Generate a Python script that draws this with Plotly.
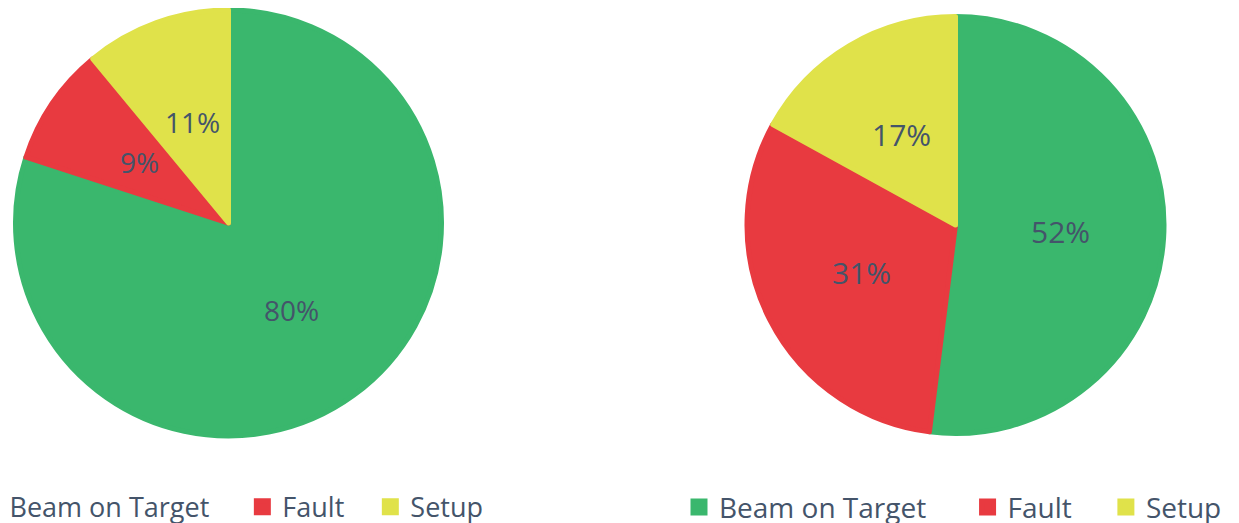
import math
import plotly.graph_objects as go

# ---- data ----
categories = ["Beam on Target", "Fault", "Setup"]
left_values = [80, 9, 11]
right_values = [52, 31, 17]
colors = ["#3AB76D", "#E83A40", "#E0E24A"]

# ---- layout geometry (figure pixels; the page adds an 8px body margin) ----
W, H = 1260, 515
MB = 40                      # bottom margin that holds the legends
PW, PH = W, H - MB           # plot-area size
TEXT_COLOR = "#44546A"
FONT = "Open Sans"
LINE_W = 5
left_geom = dict(cx=220.5, cy=215, r=213)
right_geom = dict(cx=947.5, cy=217, r=208.5)


def px_to_paper(px, py):
    return px / PW, 1 - py / PH


def domain(g):
    x0, y1 = px_to_paper(g["cx"] - g["r"], g["cy"] - g["r"])
    x1, y0 = px_to_paper(g["cx"] + g["r"], g["cy"] + g["r"])
    return dict(x=[x0, x1], y=[y0, y1])


def labels_for(values, g, r_extra, size):
    total = sum(values)
    out = []
    cum = 0
    R = g["r"] + r_extra
    for v in values:
        mid = (cum + v / 2) / total * 2 * math.pi
        cum += v
        x, y = px_to_paper(g["cx"] + 0.5 * R * math.sin(mid),
                           g["cy"] - 0.5 * R * math.cos(mid))
        out.append(dict(
            x=x, y=y, xref="paper", yref="paper",
            text=f"{round(v / total * 100)}%", showarrow=False,
            font=dict(family=FONT, size=size, color=TEXT_COLOR),
            xanchor="center", yanchor="middle",
        ))
    return out


def padded(names, pads):
    # trailing non-breaking spaces widen the gap between legend entries
    # (and keep each pie's legend entries distinct)
    return [n + "\u00a0" * p for n, p in zip(names, pads)]


fig = go.Figure()
fig.add_trace(go.Pie(
    labels=padded(categories, [4, 3, 0]), values=left_values, sort=False,
    direction="clockwise", rotation=0, domain=domain(left_geom), textinfo="none",
    marker=dict(colors=colors, line=dict(color=colors, width=LINE_W)),
    legend="legend", hoverinfo="label+percent",
))
fig.add_trace(go.Pie(
    labels=padded(categories, [5, 4, 1]), values=right_values, sort=False,
    direction="clockwise", rotation=0, domain=domain(right_geom), textinfo="none",
    marker=dict(colors=colors, line=dict(color=colors, width=LINE_W)),
    legend="legend2", hoverinfo="label+percent",
))

annotations = (labels_for(left_values, left_geom, LINE_W / 2, 28)
               + labels_for(right_values, right_geom, LINE_W / 2, 30))

legend_y = px_to_paper(0, 499.3)[1]
legend_common = dict(
    orientation="h", yanchor="middle", xanchor="left", y=legend_y,
    bgcolor="rgba(0,0,0,0)", borderwidth=0,
)

fig.update_layout(
    width=W, height=H,
    margin=dict(l=0, r=0, t=0, b=MB, autoexpand=False),
    paper_bgcolor="white", plot_bgcolor="white",
    showlegend=True,
    legend=dict(x=px_to_paper(-38.5, 0)[0],
                font=dict(family=FONT, size=27, color=TEXT_COLOR), **legend_common),
    legend2=dict(x=px_to_paper(671, 0)[0],
                 font=dict(family=FONT, size=28, color=TEXT_COLOR), **legend_common),
    annotations=annotations,
)

fig.write_html("out.html")
